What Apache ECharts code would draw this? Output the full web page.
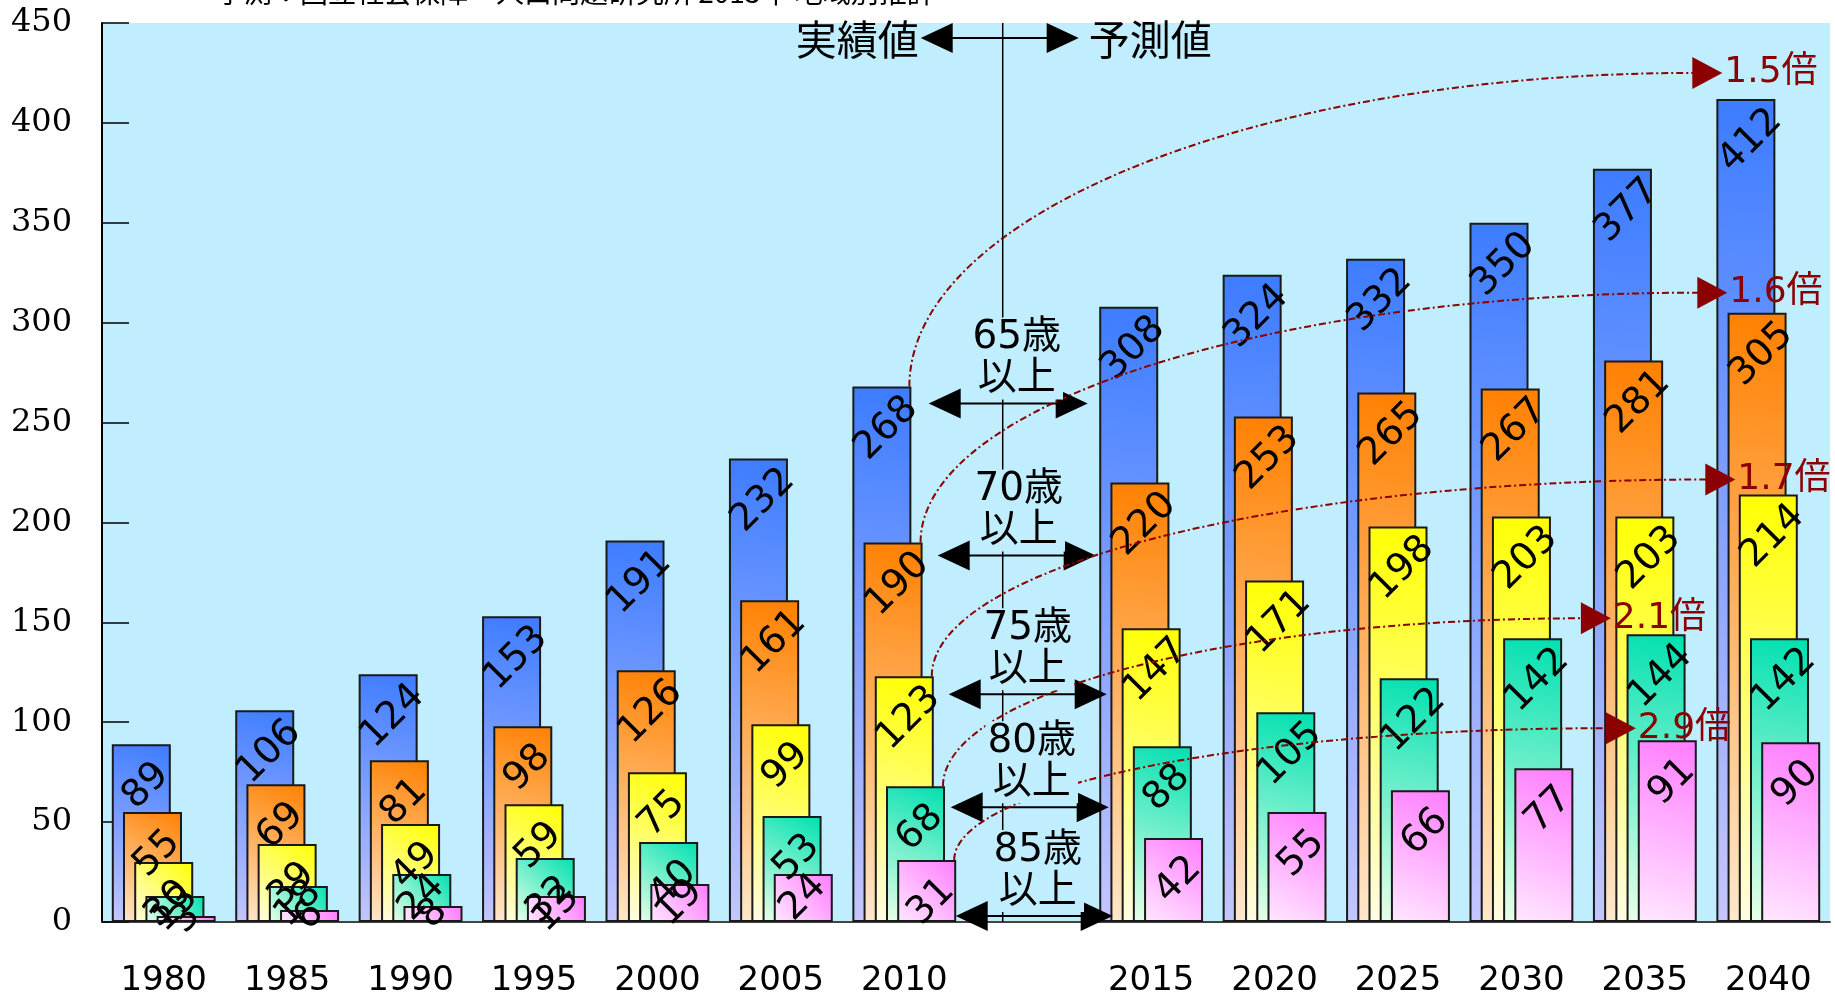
<!DOCTYPE html>
<html>
<head>
<meta charset="utf-8">
<title>高齢者人口の推移</title>
<script src="https://cdn.jsdelivr.net/npm/echarts@6/dist/echarts.min.js"></script>
<style>
  html, body { margin: 0; padding: 0; background: #fff; }
  #chart { width: 1835px; height: 998px; }
</style>
</head>
<body>
<div id="chart"></div>
<script>
// 年次（2010 と 2015 の間は空き）
const years = ['1980', '1985', '1990', '1995', '2000', '2005', '2010', '', '2015', '2020', '2025', '2030', '2035', '2040']
// 年齢区分ごとの人数
const over65 = [89, 106, 124, 153, 191, 232, 268, null, 308, 324, 332, 350, 377, 412]
const over70 = [55, 69, 81, 98, 126, 161, 190, null, 220, 253, 265, 267, 281, 305]
const over75 = [30, 39, 49, 59, 75, 99, 123, null, 147, 171, 198, 203, 203, 214]
const over80 = [13, 18, 24, 32, 40, 53, 68, null, 88, 105, 122, 142, 144, 142]
const over85 = [3, 6, 8, 13, 19, 24, 31, null, 42, 55, 66, 77, 91, 90]
const seriesNames = ['65歳以上', '70歳以上', '75歳以上', '80歳以上', '85歳以上']
const yTicks = { min: 0, max: 450, interval: 50 }

const allSeries = [over65, over70, over75, over80, over85]
// [上端(右上)の色, 下端(左下)の色]
const barColors = [
  ['#3c7cff', '#c6c6ff'],
  ['#ff8000', '#ffe8cc'],
  ['#ffff00', '#fffce4'],
  ['#00e0b0', '#eaffe8'],
  ['#ff7cff', '#ffe8ff']
]

const BAR_W = 59
const GAP = -0.81
const LINE_RED = '#8b0000'
const PLOT_BG = '#c0eefe'
const FONT = '"DejaVu Sans", "Noto Sans CJK JP"'

const chart = echarts.init(document.getElementById('chart'))

const option = {
  animation: false,
  grid: {
    left: 102, right: 5, top: 23, bottom: 75,
    show: true, backgroundColor: PLOT_BG, borderWidth: 0
  },
  xAxis: {
    type: 'category',
    data: years,
    axisLine: { lineStyle: { color: '#444', width: 2 } },
    axisTick: { show: false },
    axisLabel: { interval: 0, fontSize: 34, color: '#000', fontFamily: FONT, margin: 42 }
  },
  yAxis: {
    type: 'value',
    min: yTicks.min, max: yTicks.max, interval: yTicks.interval,
    axisLine: { show: true, lineStyle: { color: '#000', width: 2 } },
    axisTick: { show: true, inside: true, length: 27, lineStyle: { color: '#000', width: 1.5 } },
    splitLine: { show: false },
    axisLabel: { fontSize: 32, color: '#000', fontFamily: 'DejaVu Serif', margin: 30 }
  },
  series: allSeries.map((vals, i) => ({
    type: 'bar',
    name: seriesNames[i],
    barWidth: BAR_W,
    barGap: (GAP * 100) + '%',
    itemStyle: {
      color: new echarts.graphic.LinearGradient(0, 1, 1, 0, [
        { offset: 0, color: barColors[i][1] },
        { offset: 1, color: barColors[i][0] }
      ]),
      borderColor: '#1a1a1a',
      borderWidth: 2
    },
    label: {
      show: true,
      position: ['58%', 42],
      rotate: 45,
      align: 'center',
      verticalAlign: 'middle',
      fontSize: 38,
      color: '#000',
      fontFamily: FONT
    },
    // 低い棒はラベルを中央に
    data: vals.map(v => (v == null ? null : (v < 30 ? { value: v, label: { position: 'inside' } } : v)))
  }))
}
chart.setOption(option)

// ---- 注記 ----
const xPx = (idx) => chart.convertToPixel({ xAxisIndex: 0 }, idx)
const yPx = (v) => chart.convertToPixel({ yAxisIndex: 0 }, v)
const step = BAR_W * (1 + GAP)
const groupW = BAR_W * 5 + BAR_W * GAP * 4
const barRight = (seriesIdx, catIdx) => xPx(catIdx) - groupW / 2 + seriesIdx * step + BAR_W

const idx2010 = years.indexOf('2010')
const idxGap = 7
const splitX = xPx(idxGap) - 25
const plotTop = yPx(yTicks.max)
const plotBottom = yPx(0)

function head (tipX, tipY, dir, len, half, color) {
  return {
    type: 'polygon', z: 100, silent: true,
    shape: { points: [[tipX, tipY], [tipX - dir * len, tipY - half], [tipX - dir * len, tipY + half]] },
    style: { fill: color }
  }
}
function doubleArrow (x1, x2, y) {
  return [
    { type: 'line', z: 100, silent: true, shape: { x1: x1 + 20, y1: y, x2: x2 - 20, y2: y }, style: { stroke: '#000', lineWidth: 2 } },
    head(x1, y, -1, 32, 15, '#000'),
    head(x2, y, 1, 32, 15, '#000')
  ]
}

// 年齢区分の矢印（値軸上の高さ, 分割線からの左右の端, 文字の横ずれ）
const ageArrows = [
  { level: 259.5, left: -74, right: 85, tx: 14 },
  { level: 183.5, left: -65, right: 93, tx: 16 },
  { level: 114, left: -54, right: 104, tx: 25 },
  { level: 57.5, left: -52, right: 106, tx: 29 },
  { level: 3, left: -47, right: 110, tx: 35 }
]
const ageLabels = ['65歳\n以上', '70歳\n以上', '75歳\n以上', '80歳\n以上', '85歳\n以上']

// 倍率矢印の先端（どの年の位置か, 横ずれ, 棒上端からの高さ）
const ratioTips = [
  { year: '2040', dx: -46, dy: -26 },
  { year: '2040', dx: -41, dy: -20 },
  { year: '2040', dx: -33, dy: -15 },
  { year: '2035', dx: -34, dy: -20 },
  { year: '2035', dx: -9, dy: -14 }
]

const graphic = []

// 上部の出典（上端で切れている）
graphic.push({
  type: 'text', z: 100, silent: true,
  style: { x: 216, y: 6, text: '予測：国立社会保障・人口問題研究所 2013年 地域別推計', fill: '#000',
    font: '28px "Noto Sans CJK JP"', textAlign: 'left', textVerticalAlign: 'bottom' }
})

// 実績値 / 予測値 の分割線
graphic.push({
  type: 'line', z: 99, silent: true,
  shape: { x1: splitX, y1: plotTop, x2: splitX, y2: plotBottom },
  style: { stroke: '#000', lineWidth: 1.5 }
})
const topY = 38
graphic.push(...doubleArrow(splitX - 82, splitX + 76, topY))
graphic.push({
  type: 'text', z: 101, silent: true,
  style: { x: splitX - 84, y: topY + 1, text: '実績値', fill: '#000', font: '41px "Noto Sans CJK JP"',
    textAlign: 'right', textVerticalAlign: 'middle' }
})
graphic.push({
  type: 'text', z: 101, silent: true,
  style: { x: splitX + 86, y: topY + 1, text: '予測値', fill: '#000', font: '41px "Noto Sans CJK JP"',
    textAlign: 'left', textVerticalAlign: 'middle' }
})

ageArrows.forEach((a, i) => {
  const y = yPx(a.level)
  graphic.push(...doubleArrow(splitX + a.left, splitX + a.right, y))
  graphic.push({
    type: 'text', z: 101, silent: true,
    style: {
      x: splitX + a.tx, y: y - 45, text: ageLabels[i], fill: '#000',
      font: '39px ' + FONT, lineHeight: 41,
      textAlign: 'center', textVerticalAlign: 'middle',
      backgroundColor: PLOT_BG, padding: [0, 2]
    }
  })
})

// 2010年 → 2040年 の倍率曲線
allSeries.forEach((vals, i) => {
  const base = vals[idx2010]
  const last = vals[vals.length - 1]
  const ratio = (last / base).toFixed(1) + '倍'
  const x0 = barRight(i, idx2010) - 2
  const y0 = yPx(base)
  const t = ratioTips[i]
  const tipX = xPx(years.indexOf(t.year)) + t.dx
  const tipY = yPx(last) + t.dy
  const xe = tipX - 28
  const a = xe - x0
  const b = y0 - tipY
  graphic.push({
    type: 'bezierCurve', z: 100, silent: true,
    shape: { x1: x0, y1: y0, cpx1: x0, cpy1: y0 - 0.552 * b, cpx2: xe - 0.552 * a, cpy2: tipY, x2: xe, y2: tipY },
    style: { stroke: LINE_RED, lineWidth: 2, lineDash: [7, 3, 2, 3], fill: null }
  })
  graphic.push(head(tipX, tipY, 1, 30, 16, LINE_RED))
  graphic.push({
    type: 'text', z: 101, silent: true,
    style: { x: tipX + 2, y: tipY, text: ratio, fill: LINE_RED, font: '36px ' + FONT,
      textAlign: 'left', textVerticalAlign: 'middle' }
  })
})

chart.setOption({ graphic: graphic })
</script>
</body>
</html>
